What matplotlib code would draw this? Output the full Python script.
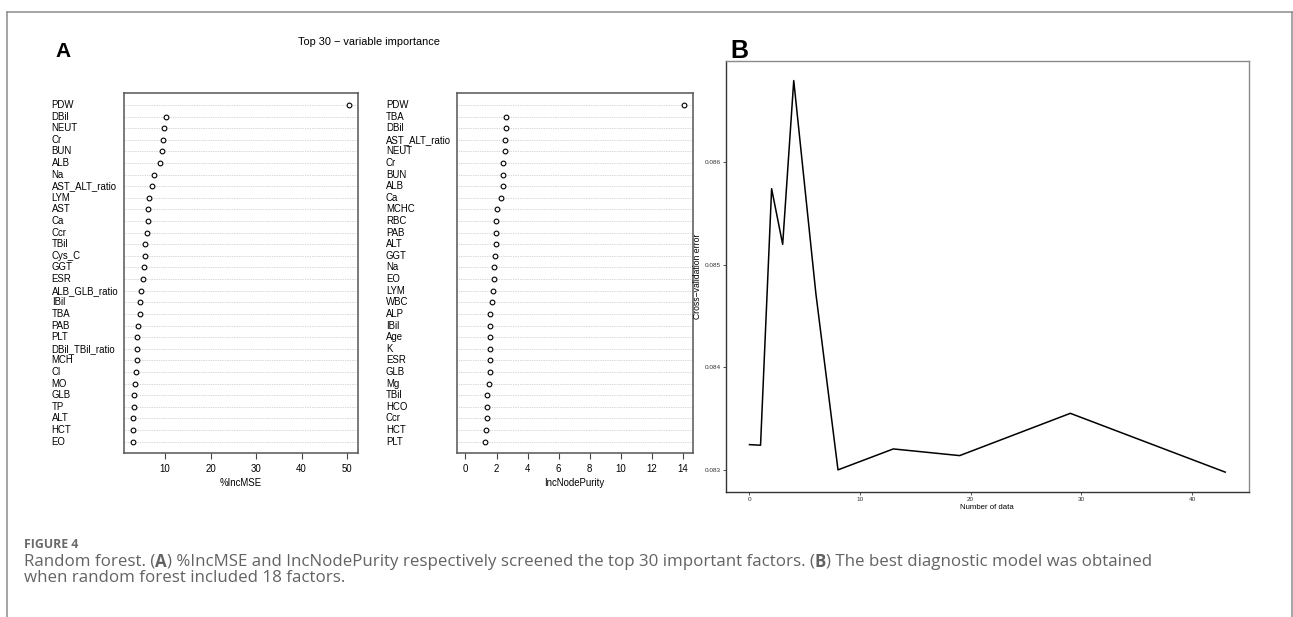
import matplotlib
matplotlib.use("Agg")
import matplotlib.pyplot as plt
from matplotlib.transforms import blended_transform_factory
from matplotlib.lines import Line2D

# ---------------- data ----------------
mse_labels = ["PDW", "DBil", "NEUT", "Cr", "BUN", "ALB", "Na", "AST_ALT_ratio", "LYM", "AST",
              "Ca", "Ccr", "TBil", "Cys_C", "GGT", "ESR", "ALB_GLB_ratio", "IBil", "TBA", "PAB",
              "PLT", "DBil_TBil_ratio", "MCH", "Cl", "MO", "GLB", "TP", "ALT", "HCT", "EO"]
mse_values = [50.5, 10.15, 9.85, 9.63, 9.34, 8.97, 7.65, 7.14, 6.48, 6.33,
              6.2, 6.04, 5.67, 5.54, 5.38, 5.16, 4.73, 4.58, 4.5, 4.0,
              3.78, 3.78, 3.75, 3.56, 3.5, 3.11, 3.1, 3.04, 2.97, 2.9]

np_labels = ["PDW", "TBA", "DBil", "AST_ALT_ratio", "NEUT", "Cr", "BUN", "ALB", "Ca", "MCHC",
             "RBC", "PAB", "ALT", "GGT", "Na", "EO", "LYM", "WBC", "ALP", "IBil",
             "Age", "K", "ESR", "GLB", "Mg", "TBil", "HCO", "Ccr", "HCT", "PLT"]
np_values = [14.07, 2.63, 2.6, 2.54, 2.54, 2.45, 2.43, 2.39, 2.28, 2.02,
             1.96, 1.94, 1.94, 1.93, 1.83, 1.81, 1.79, 1.72, 1.59, 1.57,
             1.58, 1.58, 1.58, 1.56, 1.51, 1.42, 1.42, 1.38, 1.34, 1.27]

cv_n = [0, 1, 2, 3, 4, 6, 8, 13, 19, 29, 43]
cv_err = [0.083246, 0.083240, 0.085740, 0.085198, 0.086794, 0.084719, 0.083000,
          0.083204, 0.083139, 0.083551, 0.082978]

mse_ticks = [10, 20, 30, 40, 50]
np_ticks = [0, 2, 4, 6, 8, 10, 12, 14]
cv_xticks = [0, 10, 20, 30, 40]
cv_yticks = [0.083, 0.084, 0.085, 0.086]

# ---------------- figure ----------------
W, H = 1293, 617
fig = plt.figure(figsize=(W / 100, H / 100), dpi=100)
plt.rcParams['font.family'] = ['Liberation Sans', 'DejaVu Sans']

def fx(px):
    return px / W

def fy(py):
    return 1 - py / H

# outer frame
frame_c = "#8c8c8c"
fig.add_artist(Line2D([fx(7), fx(7)], [fy(12), 0], transform=fig.transFigure, color=frame_c, lw=1.1))
fig.add_artist(Line2D([fx(7), fx(1292)], [fy(12), fy(12)], transform=fig.transFigure, color=frame_c, lw=1.1))
fig.add_artist(Line2D([fx(1292), fx(1292)], [fy(12), 0], transform=fig.transFigure, color=frame_c, lw=1.1))

LAB_FS = 6.9

def dotchart(ax, labels, values, label_x, xmin_zero, ticks, xlab):
    n = len(values)
    ys = [n - i for i in range(n)]
    lo = 0 if xmin_zero else min(values)
    hi = max(values)
    pad = (hi - lo) * 0.04
    ax.set_xlim(lo - pad, hi + pad)
    ax.set_ylim(0, n + 1)
    for y in ys:
        ax.axhline(y, color="#b0b0b0", lw=0.5, ls=(0, (1, 1.5)), zorder=1)
    ax.plot(values, ys, ls="none", marker="o", ms=3.4, mfc="white", mec="black", mew=0.8, zorder=3)
    ax.set_yticks([])
    ax.set_xticks(ticks)
    ax.set_xticklabels([str(t) for t in ticks], fontsize=LAB_FS)
    ax.tick_params(axis="x", length=4.5, width=0.8, color="#444444", pad=3, labelcolor="black")
    for s in ax.spines.values():
        s.set_color("#555555")
        s.set_linewidth(1.1)
    ax.set_xlabel(xlab, fontsize=LAB_FS, labelpad=3)
    tr = blended_transform_factory(fig.transFigure, ax.transData)
    for lab, y in zip(labels, ys):
        ax.text(fx(label_x), y, lab, transform=tr, ha="left", va="center", fontsize=LAB_FS)

axA = fig.add_axes([fx(124), fy(453.3), fx(358 - 124), (453.3 - 93.3) / H])
dotchart(axA, mse_labels, mse_values, 51.7, False, mse_ticks, "%IncMSE")

axM = fig.add_axes([fx(456.7), fy(453.3), fx(692.7 - 456.7), (453.3 - 93.3) / H])
dotchart(axM, np_labels, np_values, 386, True, np_ticks, "IncNodePurity")

fig.text(fx(369), fy(42), "Top 30 \u2212 variable importance", ha="center", va="center", fontsize=7.9)
fig.text(fx(55), fy(57.3), "A", ha="left", va="baseline", fontsize=15, fontweight="bold")
fig.text(fx(730.7), fy(57.7), "B", ha="left", va="baseline", fontsize=18, fontweight="bold")

# panel B
axB = fig.add_axes([fx(725.7), fy(491.7), fx(1249 - 725.7), (491.7 - 61) / H])
axB.plot(cv_n, cv_err, color="black", lw=1.1)
xr = max(cv_n) - min(cv_n)
axB.set_xlim(min(cv_n) - 0.05 * xr, max(cv_n) + 0.05 * xr)
yr = max(cv_err) - min(cv_err)
axB.set_ylim(min(cv_err) - 0.05 * yr, max(cv_err) + 0.05 * yr)
axB.set_xticks(cv_xticks)
axB.set_xticklabels([str(t) for t in cv_xticks])
axB.set_yticks(cv_yticks)
axB.set_yticklabels([f"{t:.3f}" for t in cv_yticks])
axB.tick_params(axis="both", length=2, width=0.6, color="#333333", labelsize=4.6, labelcolor="#333333", pad=1.5)
axB.spines["left"].set_color("#333333")
axB.spines["bottom"].set_color("#333333")
axB.spines["top"].set_color("#8a8a8a")
axB.spines["right"].set_color("#8a8a8a")
for s in axB.spines.values():
    s.set_linewidth(1.0)
axB.set_xlabel("Number of data", fontsize=5.6, labelpad=2)
axB.set_ylabel("Cross\u2212validation error", fontsize=6.2)
axB.yaxis.set_label_coords((701.5 - 725.7) / 523.3, 0.5)

# caption
cap_c = "#636363"
fig.text(fx(24), fy(545), "FIGURE 4", ha="left", va="center", fontsize=8.8,
         fontweight="bold", color="#6a6a6a", family=["Open Sans", "DejaVu Sans"])

renderer = fig.canvas.get_renderer()

def draw_segments(x0, yc, segs, fs):
    x = x0
    arts = []
    for txt, wt in segs:
        t = fig.text(fx(x), fy(yc), txt, ha="left", va="center", fontsize=fs,
                     fontweight=wt, color=cap_c, family=["Open Sans", "DejaVu Sans"])
        bb = t.get_window_extent(renderer)
        x += bb.width
        arts.append(t)
    return x - x0, arts

line1 = [("Random forest. (", "normal"), ("A", "bold"),
         (") %IncMSE and IncNodePurity respectively screened the top 30 important factors. (", "normal"),
         ("B", "bold"), (") The best diagnostic model was obtained", "normal")]
line2 = [("when random forest included 18 factors.", "normal")]

w, arts = draw_segments(24, 561.7, line1, 11)
for a in arts:
    a.remove()
fs = 11 * (1128 / w)
draw_segments(24, 561.7, line1, fs)
draw_segments(24, 578.5, line2, fs)

fig.savefig("out.png", dpi=100)
